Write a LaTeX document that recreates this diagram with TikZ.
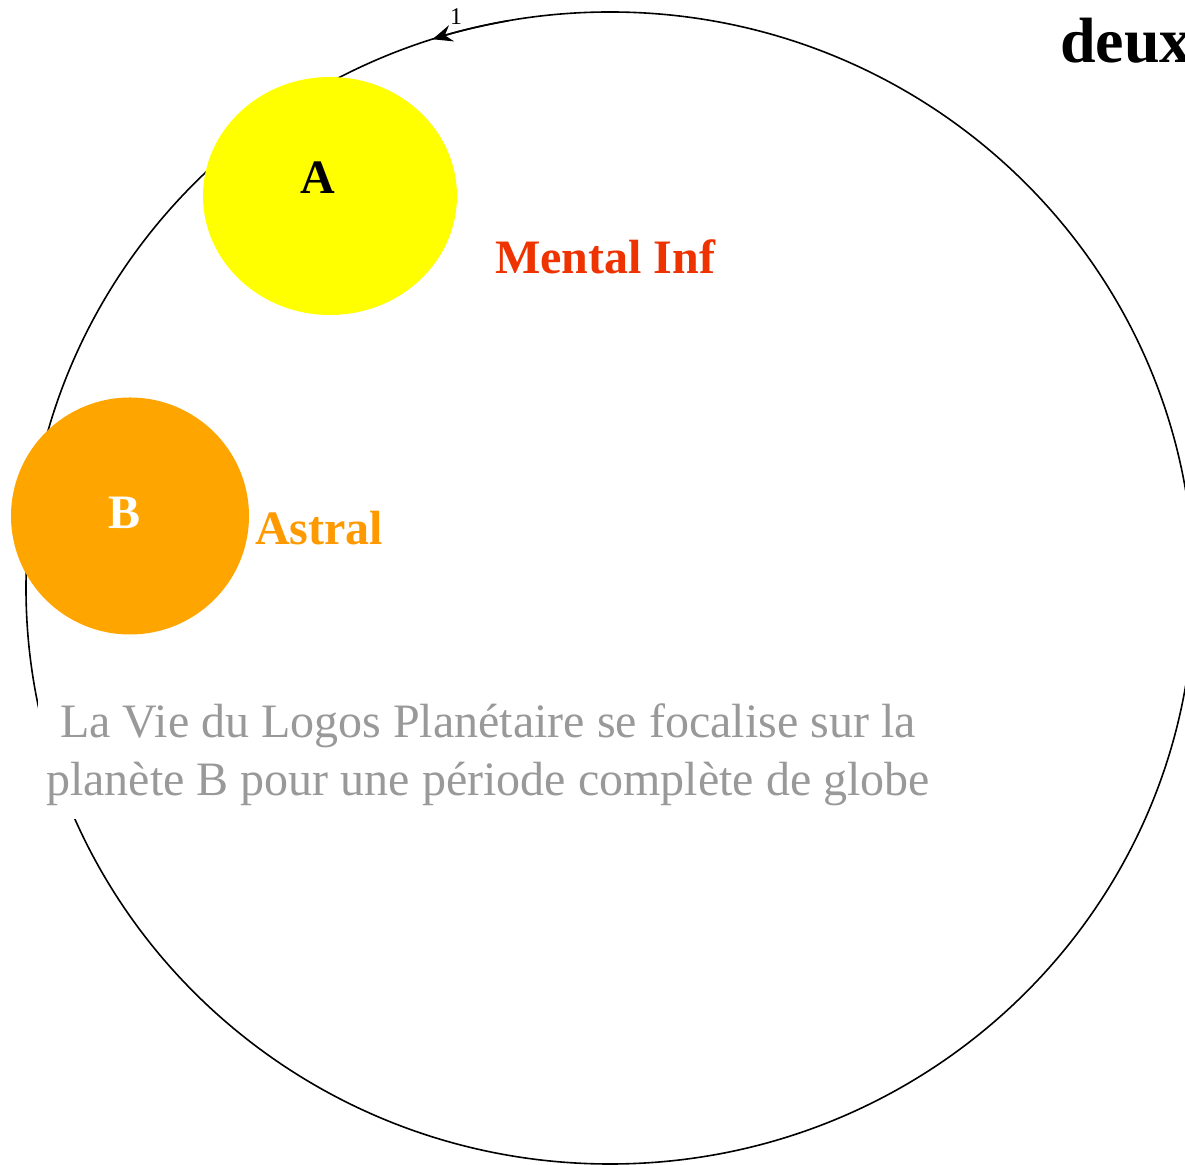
\documentclass[tikz,border=0pt]{standalone}
\usepackage{fontspec}
\setmainfont{Liberation Serif}
\usetikzlibrary{arrows.meta,shapes.geometric}
\definecolor{planetA}{HTML}{FFFF00}
\definecolor{planetB}{HTML}{FFA500}
\definecolor{mentalc}{HTML}{EE3300}
\definecolor{astralc}{HTML}{FF9900}
\definecolor{notec}{HTML}{999999}
\tikzset{
  orbit/.style={draw=black,line width=1.6pt},
  planet/.style={ellipse,inner sep=0pt,draw=none},
  bigbold/.style={font=\fontsize{48}{58}\selectfont\bfseries,inner sep=0pt},
  note/.style={font=\fontsize{48}{58}\selectfont,text=notec,fill=white,align=center,inner xsep=8pt,inner ysep=13pt},
}
\begin{document}
\begin{tikzpicture}[x=1pt,y=1pt]
\useasboundingbox[fill=white] (0,0) rectangle (1185,1164);
% orbit
\coordinate (orbitc) at (610,576);
\draw[orbit] (orbitc) ellipse [x radius=584, y radius=576];
\draw[orbit,-{Stealth[length=20pt,width=17pt,inset=7pt]}] (orbitc) ++(100:584 and 576) coordinate (arrstart)
  arc[start angle=100,end angle=107.7,x radius=584,y radius=576] coordinate (arrend);
\node[font=\fontsize{24}{28}\selectfont,anchor=base,inner sep=0pt] (one) at (456,1139) {1};
% note text (covers orbit)
\node[note] (note) at (488,409) {La Vie du Logos Planétaire se focalise sur la\\planète B pour une période complète de globe};
% planets
\node[planet,fill=planetA,minimum width=254pt,minimum height=238pt] (A) at (330,968) {};
\node[planet,fill=planetB,minimum width=238pt,minimum height=237pt] (B) at (130,648) {};
\node[bigbold,anchor=base] (Alab) at (318,970) {A};
\node[bigbold,anchor=base,text=white] (Blab) at (125,635) {B};
\node[bigbold,anchor=base west,text=mentalc] (mental) at (495,890) {Mental Inf};
\node[bigbold,anchor=base west,text=astralc] (astral) at (255,619) {Astral};
\node[font=\fontsize{64}{70}\selectfont\bfseries,anchor=base west,inner sep=0pt] (deux) at (1060,1101) {deux};
\end{tikzpicture}
\end{document}
